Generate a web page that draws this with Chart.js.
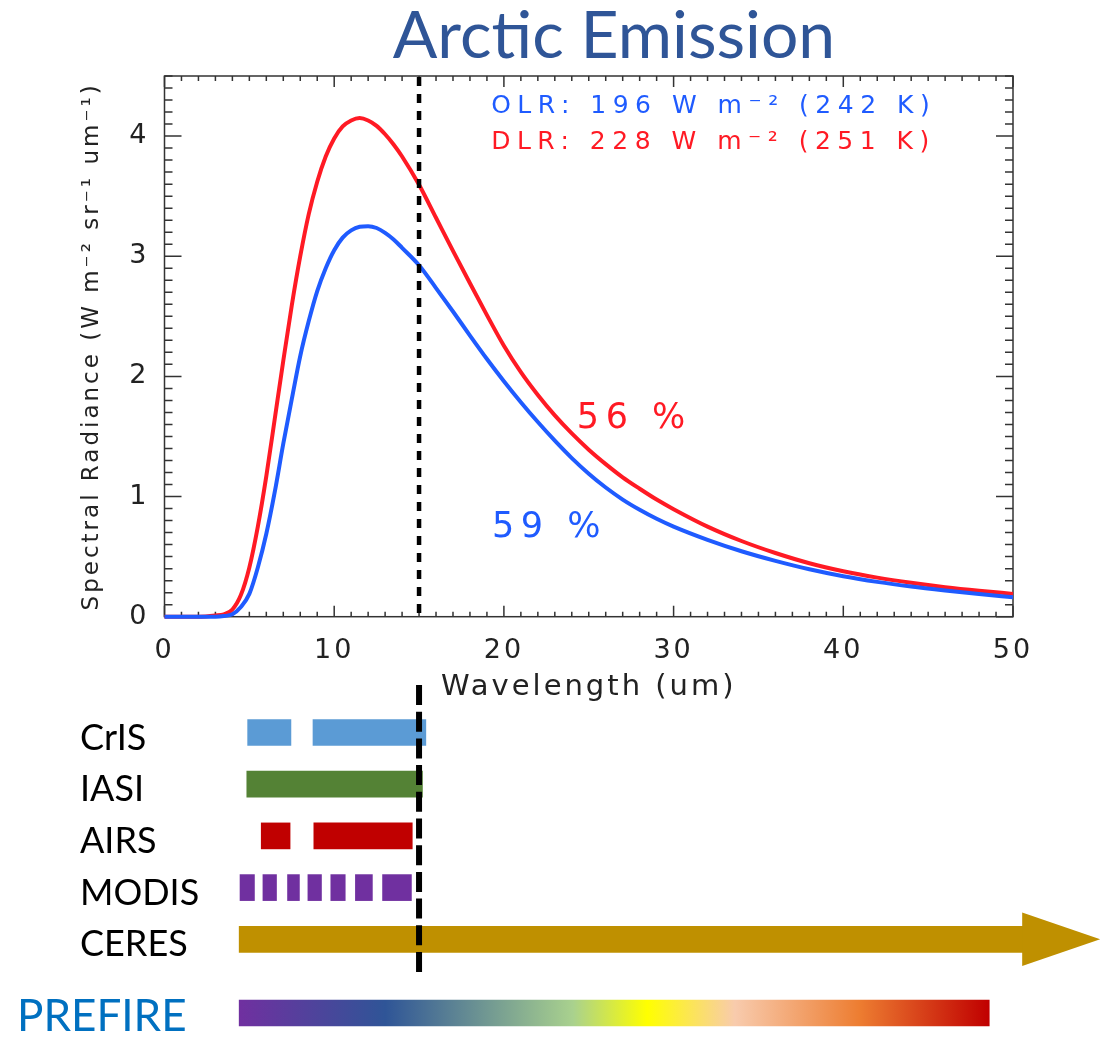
<!DOCTYPE html>
<html>
<head>
<meta charset="utf-8">
<title>Arctic Emission</title>
<script src="https://cdn.jsdelivr.net/npm/chart.js@4.4.1/dist/chart.umd.min.js"></script>
<style>
  body { margin: 0; background: #fff; }
  #page { position: relative; width: 1101px; height: 1038px; overflow: hidden; }
  canvas { position: absolute; left: 0; }
  #spectrum { top: 0; }
  #sensors { top: 680px; }
  #prefire { top: 987px; }
</style>
</head>
<body>
<div id="page">
  <canvas id="spectrum" width="1101" height="710"></canvas>
  <canvas id="sensors" width="1101" height="300"></canvas>
  <canvas id="prefire" width="1101" height="52"></canvas>
</div>
<script>
// spectra (um, W m-2 sr-1 um-1)
const wavelength = [0, 2, 3, 3.5, 4, 4.5, 5, 5.5, 6, 6.5, 7, 7.5, 8, 8.5, 9, 9.5, 10, 10.5, 11, 11.5,
  12, 12.5, 13, 13.5, 14, 15, 16, 17, 18, 19, 20, 21, 22, 23, 24, 25, 26, 27, 28, 29,
  30, 32, 34, 36, 38, 40, 42, 44, 46, 48, 50];
const dlr = [0, 0, 0.01, 0.02, 0.06, 0.18, 0.41, 0.75, 1.17, 1.65, 2.13, 2.59, 3.00, 3.35, 3.62, 3.83, 3.98, 4.08, 4.13, 4.15,
  4.13, 4.085, 4.015, 3.93, 3.83, 3.595, 3.32, 3.045, 2.775, 2.51, 2.255, 2.035, 1.845, 1.675, 1.525, 1.39, 1.27, 1.16, 1.065, 0.975,
  0.895, 0.75, 0.63, 0.53, 0.445, 0.378, 0.325, 0.282, 0.246, 0.216, 0.19];
const olr = [0, 0, 0, 0.005, 0.02, 0.08, 0.19, 0.41, 0.69, 1.04, 1.44, 1.81, 2.17, 2.46, 2.71, 2.90, 3.05, 3.155, 3.215, 3.245,
  3.25, 3.235, 3.195, 3.14, 3.07, 2.925, 2.735, 2.54, 2.34, 2.145, 1.96, 1.785, 1.62, 1.465, 1.32, 1.19, 1.075, 0.975, 0.89, 0.815,
  0.75, 0.64, 0.545, 0.465, 0.395, 0.337, 0.29, 0.251, 0.218, 0.188, 0.162];
const xTicks = [0, 10, 20, 30, 40, 50];
const yTicks = [0, 1, 2, 3, 4];
const cutoff = 15;

const notes = [
  { text: 'OLR: 196 W m\u207B\u00B2 (242 K)', x: 19.25, y: 4.25, color: '#1F5BFF', size: 25, spacing: 6.5 },
  { text: 'DLR: 228 W m\u207B\u00B2 (251 K)', x: 19.25, y: 3.95, color: '#FF1A24', size: 25, spacing: 6.5 },
  { text: '56 %', x: 24.3, y: 1.65, color: '#FF1A24', size: 35, spacing: 6.5 },
  { text: '59 %', x: 19.3, y: 0.74, color: '#1F5BFF', size: 35, spacing: 6.5 }
];

// instrument spectral coverage (um)
const instruments = ['CrIS', 'IASI', 'AIRS', 'MODIS', 'CERES'];
const crisBands = [[4.9, 7.45], [8.75, 15.4]];
const iasiBands = [[4.85, 15.2]];
const airsBands = [[5.7, 7.4], [8.8, 14.6]];
const modisBands = [[4.45, 5.3], [5.8, 6.6], [7.25, 7.95], [8.45, 9.25], [9.8, 10.65], [11.25, 12.25], [12.85, 14.55]];
const ceresBands = [[4.4, 50.6]];
const prefireBand = [4.4, 48.6];

const sensorColors = ['#5B9BD5', '#548235', '#C00000', '#7030A0', '#BF9000'];
const prefireStops = [[0, '#7030A0'], [0.195, '#2F5597'], [0.445, '#A9D18E'], [0.544, '#FFFF00'],
  [0.661, '#F8CBAD'], [0.827, '#ED7D31'], [1, '#C00000']];

const blue = '#1F5BFF';
const red = '#FF1A24';
const axisFont = "'DejaVu Sans'";

// box, inward ticks, cutoff line, labels
const spectrumDeco = {
  id: 'spectrumDeco',
  beforeDraw(chart) {
    chart.ctx.letterSpacing = '3px';
  },
  beforeDatasetsDraw(chart) {
    const { ctx, chartArea: a, scales: { x, y } } = chart;
    ctx.save();
    ctx.strokeStyle = '#333';
    ctx.lineWidth = 1.5;
    ctx.strokeRect(a.left, a.top, a.right - a.left, a.bottom - a.top);
    ctx.beginPath();
    for (let v = 0; v <= 50; v++) {
      const px = x.getPixelForValue(v);
      const len = v % 10 === 0 ? 11 : 5;
      ctx.moveTo(px, a.bottom); ctx.lineTo(px, a.bottom - len);
      ctx.moveTo(px, a.top); ctx.lineTo(px, a.top + len);
    }
    for (let i = 0; i <= 45; i++) {
      const py = y.getPixelForValue(i / 10);
      const len = i % 10 === 0 ? 17 : 8;
      ctx.moveTo(a.left, py); ctx.lineTo(a.left + len, py);
      ctx.moveTo(a.right, py); ctx.lineTo(a.right - len, py);
    }
    ctx.stroke();
    ctx.restore();
  },
  afterDatasetsDraw(chart) {
    const { ctx, chartArea: a, scales: { x } } = chart;
    const px = x.getPixelForValue(cutoff);
    ctx.save();
    ctx.strokeStyle = '#000';
    ctx.lineWidth = 4.5;
    ctx.setLineDash([9, 8]);
    ctx.beginPath();
    ctx.moveTo(px, a.top + 1);
    ctx.lineTo(px, a.bottom);
    ctx.stroke();
    ctx.restore();
  },
  afterDraw(chart) {
    const { ctx, scales: { x, y } } = chart;
    ctx.save();
    ctx.textBaseline = 'middle';
    ctx.textAlign = 'left';
    notes.forEach(n => {
      ctx.letterSpacing = n.spacing + 'px';
      ctx.font = n.size + 'px ' + axisFont;
      ctx.fillStyle = n.color;
      ctx.fillText(n.text, x.getPixelForValue(n.x), y.getPixelForValue(n.y));
    });
    ctx.letterSpacing = '0px';
    ctx.font = "66px Lato";
    ctx.fillStyle = '#2F5597';
    ctx.textAlign = 'center';
    ctx.textBaseline = 'alphabetic';
    ctx.fillText('Arctic Emission', 614, 58);
    ctx.restore();
    ctx.letterSpacing = '0px';
  }
};

new Chart(document.getElementById('spectrum'), {
  type: 'line',
  data: {
    datasets: [
      {
        label: 'OLR',
        data: wavelength.map((w, i) => ({ x: w, y: olr[i] })),
        borderColor: blue, borderWidth: 4, pointRadius: 0,
        cubicInterpolationMode: 'monotone', clip: false, order: 0
      },
      {
        label: 'DLR',
        data: wavelength.map((w, i) => ({ x: w, y: dlr[i] })),
        borderColor: red, borderWidth: 4, pointRadius: 0,
        cubicInterpolationMode: 'monotone', clip: false, order: 1
      }
    ]
  },
  options: {
    responsive: false,
    animation: false,
    layout: { padding: { left: 0, right: 88, top: 76, bottom: 0 }, autoPadding: false },
    plugins: { legend: { display: false }, tooltip: { enabled: false } },
    scales: {
      x: {
        type: 'linear', min: 0, max: 50,
        grid: { display: false, drawTicks: false },
        border: { display: false },
        afterBuildTicks: s => { s.ticks = xTicks.map(v => ({ value: v })); },
        ticks: { color: '#222', font: { family: axisFont, size: 27 }, padding: 18, maxRotation: 0 },
        title: { display: true, text: 'Wavelength (um)', color: '#222',
          font: { family: axisFont, size: 29 }, padding: { top: 0, bottom: 5 } },
        afterFit: s => { s.height = 93.3; }
      },
      y: {
        type: 'linear', min: 0, max: 4.5,
        grid: { display: false, drawTicks: false },
        border: { display: false },
        afterBuildTicks: s => { s.ticks = yTicks.map(v => ({ value: v })); },
        ticks: { color: '#222', font: { family: axisFont, size: 27 }, padding: 15 },
        title: { display: true, text: 'Spectral Radiance (W m\u207B\u00B2 sr\u207B\u00B9 um\u207B\u00B9)', color: '#222',
          font: { family: axisFont, size: 23 }, padding: { top: 78, bottom: 0 } },
        afterFit: s => { s.width = 164.5; }
      }
    }
  },
  plugins: [spectrumDeco]
});

// row names, written left-aligned in the margin at each category's pixel
const rowLabels = {
  id: 'rowLabels',
  afterDraw(chart, args, opts) {
    const { ctx, scales: { y } } = chart;
    ctx.save();
    ctx.font = opts.font;
    ctx.fillStyle = opts.color;
    ctx.textAlign = 'left';
    ctx.textBaseline = 'middle';
    chart.data.labels.forEach((name, i) => {
      ctx.fillText(name, opts.left, y.getPixelForValue(i) + opts.offset);
    });
    ctx.restore();
  }
};

// instrument rows
const bandSets = [crisBands, iasiBands, airsBands, modisBands, ceresBands];
const sensorDatasets = [];
bandSets.forEach((bands, i) => {
  bands.forEach(b => {
    sensorDatasets.push({
      label: instruments[i],
      data: [{ x: b, y: instruments[i] }],
      backgroundColor: sensorColors[i],
      borderWidth: 0,
      barThickness: 26,
      grouped: false,
      clip: false
    });
  });
});

const sensorDeco = {
  id: 'sensorDeco',
  afterDatasetsDraw(chart) {
    const { ctx, scales: { x } } = chart;
    const idx = chart.data.datasets.findIndex(d => d.label === 'CERES');
    const bar = chart.getDatasetMeta(idx).data[0];
    const end = Math.max(bar.x, bar.base);
    ctx.save();
    ctx.fillStyle = sensorColors[4];
    ctx.beginPath();
    ctx.moveTo(end - 1, bar.y - 26.7);
    ctx.lineTo(end + 77, bar.y);
    ctx.lineTo(end - 1, bar.y + 26.7);
    ctx.closePath();
    ctx.fill();

    const px = x.getPixelForValue(cutoff);
    ctx.strokeStyle = '#000';
    ctx.lineWidth = 6;
    ctx.setLineDash([20, 6.7]);
    ctx.beginPath();
    ctx.moveTo(px, 5);
    ctx.lineTo(px, 292);
    ctx.stroke();
    ctx.restore();
  }
};

new Chart(document.getElementById('sensors'), {
  type: 'bar',
  data: { labels: instruments, datasets: sensorDatasets },
  options: {
    responsive: false,
    animation: false,
    indexAxis: 'y',
    layout: { padding: { left: 164.5, right: 88, top: 26.65, bottom: 14.85 }, autoPadding: false },
    plugins: {
      legend: { display: false }, tooltip: { enabled: false },
      rowLabels: { font: '36px Lato', color: '#000', left: 80, offset: 5.5 }
    },
    scales: {
      x: { type: 'linear', min: 0, max: 50, display: false },
      y: { type: 'category', display: false }
    }
  },
  plugins: [sensorDeco, rowLabels]
});

const prefireGradient = {
  id: 'prefireGradient',
  beforeDatasetsDraw(chart) {
    const x = chart.scales.x;
    const g = chart.ctx.createLinearGradient(x.getPixelForValue(prefireBand[0]), 0, x.getPixelForValue(prefireBand[1]), 0);
    prefireStops.forEach(s => g.addColorStop(s[0], s[1]));
    chart.getDatasetMeta(0).data.forEach(el => { el.options.backgroundColor = g; });
  }
};

new Chart(document.getElementById('prefire'), {
  type: 'bar',
  data: {
    labels: ['PREFIRE'],
    datasets: [{
      label: 'PREFIRE',
      data: [{ x: prefireBand, y: 'PREFIRE' }],
      backgroundColor: prefireStops[0][1],
      borderWidth: 0,
      barThickness: 26,
      clip: false
    }]
  },
  options: {
    responsive: false,
    animation: false,
    indexAxis: 'y',
    layout: { padding: { left: 164.5, right: 88, top: 0, bottom: 0 }, autoPadding: false },
    plugins: {
      legend: { display: false }, tooltip: { enabled: false },
      rowLabels: { font: '44px Lato', color: '#0070C0', left: 17, offset: 3.5 }
    },
    scales: {
      x: { type: 'linear', min: 0, max: 50, display: false },
      y: { type: 'category', display: false }
    }
  },
  plugins: [prefireGradient, rowLabels]
});
</script>
</body>
</html>
